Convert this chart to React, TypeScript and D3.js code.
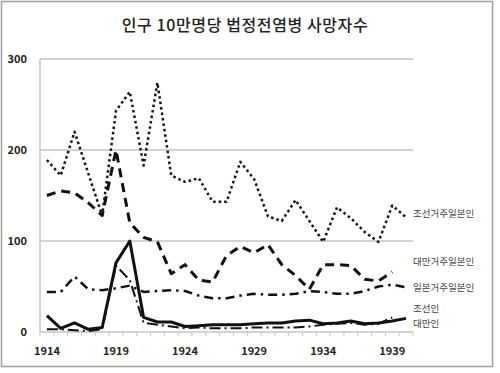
import React from 'react';
import * as d3 from 'd3';

const years = ['1914', '1915', '1916', '1917', '1918', '1919', '1920', '1921', '1922', '1923', '1924', '1925', '1926', '1927', '1928', '1929', '1930', '1931', '1932', '1933', '1934', '1935', '1936', '1937', '1938', '1939', '1940'];
const tickYears = ['1914', '1919', '1924', '1929', '1934', '1939'];
const yTicks = [0, 100, 200, 300];

// 조선거주일본인
const joseonJp = [189, 172, 220, 174, 128, 243, 264, 183, 274, 172, 165, 169, 143, 143, 187, 168, 127, 122, 145, 122, 99, 137, 125, 110, 99, 139, 126];
// 대만거주일본인
const taiwanJp = [150, 155, 153, 142, 128, 200, 120, 104, 99, 64, 74, 57, 55, 84, 94, 87, 96, 74, 62, 47, 74, 74, 73, 58, 56, 66, null];
// 일본거주일본인
const japanJp = [44, 44, 61, 47, 46, 48, 51, 44, 45, 46, 45, 40, 37, 37, 40, 42, 41, 41, 42, 45, 44, 42, 42, 45, 50, 52, 49];
// 조선인
const korean = [18, 4, 10, 3, 5, 76, 100, 16, 11, 11, 6, 7, 8, 8, 8, 9, 10, 10, 12, 13, 9, 10, 12, 9, 10, 12, 15];
// 대만인
const taiwanese = [3, 3, 2, 1, 3, 73, 57, 10, 8, 6, 4, 5, 4, 4, 4, 5, 5, 5, 5, 6, 8, 9, 10, 8, 9, 16, null];

const series = [
  { name: '조선거주일본인', values: joseonJp, width: 2.5, dash: '2.5,3', labelY: 213 },
  { name: '대만거주일본인', values: taiwanJp, width: 3, dash: '9,6', labelY: 261 },
  { name: '일본거주일본인', values: japanJp, width: 2.5, dash: '9,5,2.5,5', labelY: 287 },
  { name: '대만인', values: taiwanese, width: 2, dash: '11,4,2,4', labelY: 323 },
  { name: '조선인', values: korean, width: 3, dash: null, labelY: 308 },
];

const W = 500, H = 373;
const margin = { top: 59, right: 87, bottom: 41, left: 40 };

export default function App() {
  const x = d3.scaleBand().domain(years).range([margin.left, W - margin.right]);
  const y = d3.scaleLinear().domain([0, 300]).range([H - margin.bottom, margin.top]);
  const cx = (yr: string) => (x(yr) as number) + x.bandwidth() / 2;

  const line = d3.line<number | null>()
    .defined((d) => d != null)
    .x((_, i) => cx(years[i]))
    .y((d) => y(d as number));

  const font = '"Noto Sans CJK KR", "Noto Sans", sans-serif';
  const x0 = margin.left, x1 = W - margin.right, yBase = y(0);

  return (
    <svg width={W} height={H} style={{ position: 'absolute', left: 0, top: 0, background: '#fff' }}>
      <rect x={1.5} y={1.5} width={491} height={365} fill="#fff" stroke="#a0a0a0" strokeWidth={1.5} />
      <text x={245} y={31} textAnchor="middle" fontFamily={font} fontSize={16} fontWeight={500} letterSpacing={0.6} fill="#222">
        인구 10만명당 법정전염병 사망자수
      </text>
      {yTicks.filter((t) => t > 0).map((t) => (
        <line key={t} x1={x0} x2={x1} y1={y(t)} y2={y(t)} stroke="#c4c4c4" strokeWidth={1.5} />
      ))}
      <line x1={x0} x2={x0} y1={margin.top} y2={yBase} stroke="#c4c4c4" strokeWidth={1.5} />
      <line x1={x0} x2={x1} y1={yBase} y2={yBase} stroke="#c4c4c4" strokeWidth={1.5} />
      {years.map((yr) => (
        <line key={yr} x1={x(yr)} x2={x(yr)} y1={yBase} y2={yBase + 4} stroke="#c4c4c4" strokeWidth={1} />
      ))}
      <line x1={x1} x2={x1} y1={yBase} y2={yBase + 4} stroke="#c4c4c4" strokeWidth={1} />
      {yTicks.map((t) => (
        <text key={t} x={27} y={y(t) + 4} textAnchor="end" fontFamily={font} fontSize={11} fontWeight={700} fill="#222">{t}</text>
      ))}
      {tickYears.map((yr) => (
        <text key={yr} x={cx(yr)} y={355} textAnchor="middle" fontFamily={font} fontSize={11} fontWeight={700} fill="#222">{yr}</text>
      ))}
      {series.map((s) => (
        <path key={s.name} d={line(s.values) || ''} fill="none" stroke="#111" strokeWidth={s.width}
          strokeDasharray={s.dash || undefined} strokeLinejoin="round" />
      ))}
      {series.map((s) => (
        <text key={s.name} x={413} y={s.labelY + 3.5} fontFamily={font} fontSize={9.5} fill="#444">{s.name}</text>
      ))}
    </svg>
  );
}
